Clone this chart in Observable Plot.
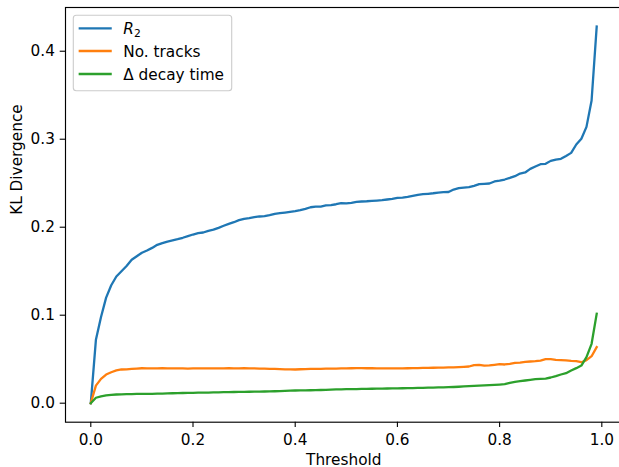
<!DOCTYPE html>
<html><head><meta charset="utf-8">
<script src="https://cdn.jsdelivr.net/npm/d3@7"></script>
<script src="https://cdn.jsdelivr.net/npm/@observablehq/plot@0.6"></script>
<style>body{margin:0;background:#fff;overflow:hidden}</style>
</head><body><div id="chart"></div>
<script>
const thresholds = [0.00,0.01,0.02,0.03,0.04,0.05,0.06,0.07,0.08,0.09,
  0.10,0.11,0.12,0.13,0.14,0.15,0.16,0.17,0.18,0.19,
  0.20,0.21,0.22,0.23,0.24,0.25,0.26,0.27,0.28,0.29,
  0.30,0.31,0.32,0.33,0.34,0.35,0.36,0.37,0.38,0.39,
  0.40,0.41,0.42,0.43,0.44,0.45,0.46,0.47,0.48,0.49,
  0.50,0.51,0.52,0.53,0.54,0.55,0.56,0.57,0.58,0.59,
  0.60,0.61,0.62,0.63,0.64,0.65,0.66,0.67,0.68,0.69,
  0.70,0.71,0.72,0.73,0.74,0.75,0.76,0.77,0.78,0.79,
  0.80,0.81,0.82,0.83,0.84,0.85,0.86,0.87,0.88,0.89,
  0.90,0.91,0.92,0.93,0.94,0.95,0.96,0.97,0.98,0.99];
const r2 = [0,0.072,0.098,0.120,0.134,0.144,0.150,0.156,0.163,0.167,
  0.171,0.1735,0.1765,0.180,0.182,0.1837,0.185,0.1864,0.188,0.1898,
  0.1917,0.1932,0.1940,0.1959,0.1972,0.1993,0.2016,0.2038,0.2057,0.2080,
  0.2095,0.2103,0.2114,0.2122,0.2125,0.2137,0.2152,0.2160,0.2167,0.2175,
  0.2182,0.2193,0.2209,0.2227,0.2235,0.2235,0.2247,0.2252,0.2261,0.2273,
  0.2270,0.2277,0.2288,0.2292,0.2295,0.2300,0.2303,0.2307,0.2315,0.2322,
  0.2334,0.2337,0.2345,0.2356,0.2368,0.2375,0.2380,0.2386,0.2394,0.2398,
  0.2400,0.2428,0.2443,0.2450,0.2455,0.2470,0.2489,0.2493,0.2497,0.2520,
  0.2530,0.2542,0.2560,0.2580,0.2610,0.2622,0.2663,0.2690,0.2716,0.2720,
  0.2754,0.2769,0.2777,0.2810,0.2845,0.2940,0.3005,0.3140,0.3440,0.4280];
const noTracks = [0,0.0200,0.0277,0.0326,0.0352,0.0372,0.0383,0.0385,0.0390,0.0394,
  0.0397,0.0396,0.0395,0.0396,0.0397,0.0396,0.0395,0.0396,0.0395,0.0394,
  0.0395,0.0396,0.0395,0.0396,0.0396,0.0395,0.0396,0.0397,0.0396,0.0396,
  0.0397,0.0396,0.0395,0.0394,0.0393,0.0391,0.0389,0.0387,0.0385,0.0384,
  0.0383,0.0386,0.0388,0.0389,0.0390,0.0391,0.0392,0.0393,0.0394,0.0395,
  0.0396,0.0397,0.0398,0.0398,0.0397,0.0397,0.0396,0.0396,0.0396,0.0396,
  0.0396,0.0396,0.0397,0.0398,0.0399,0.0401,0.0402,0.0403,0.0404,0.0405,
  0.0406,0.0408,0.0410,0.0413,0.0417,0.0432,0.0436,0.0427,0.0430,0.0436,
  0.0443,0.0440,0.0447,0.0459,0.0462,0.0470,0.0474,0.0478,0.0485,0.0500,
  0.0500,0.0493,0.0490,0.0486,0.0481,0.0478,0.0466,0.0490,0.0534,0.0637];
const decayTime = [0,0.0062,0.0078,0.0088,0.0095,0.0099,0.0101,0.0103,0.0104,0.0105,
  0.0106,0.0106,0.0107,0.0108,0.0109,0.0111,0.0113,0.0115,0.0116,0.0117,
  0.0118,0.0119,0.0120,0.0121,0.0122,0.0124,0.0125,0.0126,0.0127,0.0128,
  0.0129,0.0130,0.0131,0.0132,0.0133,0.0134,0.0136,0.0138,0.0140,0.0142,
  0.0144,0.0145,0.0146,0.0147,0.0148,0.0150,0.0152,0.0154,0.0156,0.0158,
  0.0159,0.0160,0.0161,0.0162,0.0163,0.0164,0.0165,0.0166,0.0167,0.0168,
  0.0169,0.0170,0.0171,0.0172,0.0174,0.0175,0.0176,0.0177,0.0179,0.0180,
  0.0182,0.0184,0.0187,0.0190,0.0193,0.0197,0.0199,0.0202,0.0205,0.0208,
  0.0212,0.0216,0.0232,0.0243,0.0250,0.0258,0.0265,0.0273,0.0277,0.0280,
  0.0292,0.0307,0.0326,0.0341,0.0372,0.0398,0.0428,0.0523,0.0675,0.1016];
const seriesNames = ["R2", "No. tracks", "Δ decay time"];
const seriesColors = ["#1f77b4", "#ff7f0e", "#2ca02c"];
const xTicks = [0, 0.2, 0.4, 0.6, 0.8, 1.0];
const yTicks = [0, 0.1, 0.2, 0.3, 0.4];
const xLabel = "Threshold";
const yLabel = "KL Divergence";

const rows = [];
[r2, noTracks, decayTime].forEach((vals, i) =>
  vals.forEach((v, j) => rows.push({t: thresholds[j], v, s: seriesNames[i]})));

const FONT = 15.3;
const ML = 65, MT = 7, MB = 45.3, MR = -2.5;
const plot = Plot.plot({
  width: 619, height: 467,
  marginLeft: ML, marginTop: MT, marginBottom: MB, marginRight: MR,
  style: {fontFamily: "DejaVu Sans", fontSize: FONT + "px", color: "#000", background: "#fff"},
  x: {domain: [-0.0495, 1.0395]},
  y: {domain: [-0.0216, 0.4497]},
  color: {domain: seriesNames, range: seriesColors},
  marks: [
    Plot.line(rows, {x: "t", y: "v", z: "s", stroke: "s", strokeWidth: 2.3, strokeLinejoin: "round", strokeLinecap: "square"}),
    Plot.frame({stroke: "#000", strokeWidth: 1.15}),
    Plot.axisX({ticks: xTicks, tickFormat: d3.format(".1f"), tickSize: 5.3, tickPadding: 7, strokeWidth: 1.1, label: null}),
    Plot.axisY({ticks: yTicks, tickFormat: d3.format(".1f"), tickSize: 5.3, tickPadding: 5.3, strokeWidth: 1.1, label: null}),
    Plot.text([xLabel], {frameAnchor: "bottom", lineAnchor: "bottom", dy: 42.3, text: d => d}),
    Plot.text([yLabel], {frameAnchor: "left", rotate: -90, dx: -48.5, text: d => d})
  ]
});

// legend (upper left, matplotlib-style)
const svg = d3.select(plot);
const lg = svg.append("g").attr("font-family", "DejaVu Sans").attr("font-size", FONT).attr("text-anchor", "start");
lg.append("rect").attr("x", 73.3).attr("y", 15.3).attr("width", 158.4).attr("height", 75.4)
  .attr("rx", 3).attr("fill", "#fff").attr("fill-opacity", 0.8).attr("stroke", "#cccccc").attr("stroke-width", 1.1);
const rowY = [28.3, 51, 74];
seriesNames.forEach((name, i) => {
  lg.append("line").attr("x1", 79.8).attr("x2", 110.6).attr("y1", rowY[i]).attr("y2", rowY[i])
    .attr("stroke", seriesColors[i]).attr("stroke-width", 2.3).attr("stroke-linecap", "square");
  const t = lg.append("text").attr("x", 123.3).attr("y", rowY[i] + 5.5).attr("fill", "#000").attr("text-anchor", "start");
  if (name === "R2") {
    t.append("tspan").attr("font-style", "italic").text("R");
    t.append("tspan").attr("font-size", FONT * 0.7).attr("dy", 3).text("2");
  } else {
    t.text(name);
  }
});
document.getElementById("chart").appendChild(plot);
</script>
</body></html>
